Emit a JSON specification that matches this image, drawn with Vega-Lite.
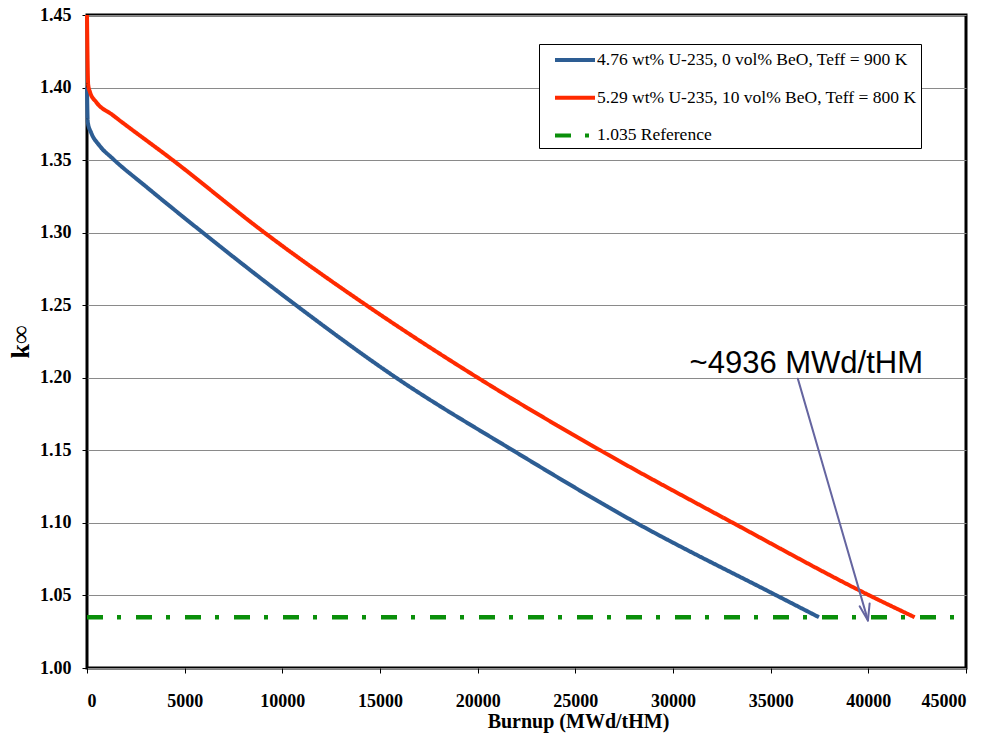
{
  "$schema": "https://vega.github.io/schema/vega-lite/v6.json",
  "autosize": "none",
  "width": 879,
  "height": 653,
  "padding": {"left": 87, "top": 15, "right": 24, "bottom": 77},
  "background": "white",
  "datasets": {
    "curves": [
      {"series": "4.76 wt% U-235, 0 vol% BeO, Teff = 900 K", "burnup": 0, "k": 1.400},
      {"series": "4.76 wt% U-235, 0 vol% BeO, Teff = 900 K", "burnup": 40, "k": 1.376},
      {"series": "4.76 wt% U-235, 0 vol% BeO, Teff = 900 K", "burnup": 210, "k": 1.369},
      {"series": "4.76 wt% U-235, 0 vol% BeO, Teff = 900 K", "burnup": 640, "k": 1.360},
      {"series": "4.76 wt% U-235, 0 vol% BeO, Teff = 900 K", "burnup": 1320, "k": 1.351},
      {"series": "4.76 wt% U-235, 0 vol% BeO, Teff = 900 K", "burnup": 3000, "k": 1.332},
      {"series": "4.76 wt% U-235, 0 vol% BeO, Teff = 900 K", "burnup": 5930, "k": 1.300},
      {"series": "4.76 wt% U-235, 0 vol% BeO, Teff = 900 K", "burnup": 10700, "k": 1.250},
      {"series": "4.76 wt% U-235, 0 vol% BeO, Teff = 900 K", "burnup": 15830, "k": 1.200},
      {"series": "4.76 wt% U-235, 0 vol% BeO, Teff = 900 K", "burnup": 21800, "k": 1.150},
      {"series": "4.76 wt% U-235, 0 vol% BeO, Teff = 900 K", "burnup": 28120, "k": 1.100},
      {"series": "4.76 wt% U-235, 0 vol% BeO, Teff = 900 K", "burnup": 35300, "k": 1.050},
      {"series": "4.76 wt% U-235, 0 vol% BeO, Teff = 900 K", "burnup": 37470, "k": 1.035},
      {"series": "5.29 wt% U-235, 10 vol% BeO, Teff = 800 K", "burnup": 0, "k": 1.450},
      {"series": "5.29 wt% U-235, 10 vol% BeO, Teff = 800 K", "burnup": 60, "k": 1.402},
      {"series": "5.29 wt% U-235, 10 vol% BeO, Teff = 800 K", "burnup": 150, "k": 1.397},
      {"series": "5.29 wt% U-235, 10 vol% BeO, Teff = 800 K", "burnup": 470, "k": 1.390},
      {"series": "5.29 wt% U-235, 10 vol% BeO, Teff = 800 K", "burnup": 1320, "k": 1.381},
      {"series": "5.29 wt% U-235, 10 vol% BeO, Teff = 800 K", "burnup": 4390, "k": 1.350},
      {"series": "5.29 wt% U-235, 10 vol% BeO, Teff = 800 K", "burnup": 9090, "k": 1.300},
      {"series": "5.29 wt% U-235, 10 vol% BeO, Teff = 800 K", "burnup": 14300, "k": 1.250},
      {"series": "5.29 wt% U-235, 10 vol% BeO, Teff = 800 K", "burnup": 20010, "k": 1.200},
      {"series": "5.29 wt% U-235, 10 vol% BeO, Teff = 800 K", "burnup": 26280, "k": 1.150},
      {"series": "5.29 wt% U-235, 10 vol% BeO, Teff = 800 K", "burnup": 33070, "k": 1.100},
      {"series": "5.29 wt% U-235, 10 vol% BeO, Teff = 800 K", "burnup": 40060, "k": 1.050},
      {"series": "5.29 wt% U-235, 10 vol% BeO, Teff = 800 K", "burnup": 42370, "k": 1.035}
    ],
    "reference": [
      {"series": "1.035 Reference", "burnup": 0, "k": 1.035},
      {"series": "1.035 Reference", "burnup": 44700, "k": 1.035}
    ],
    "arrow": [
      {"x": 36390, "y": 1.1994, "x2": 39980, "y2": 1.0328},
      {"x": 39555, "y": 1.0425, "x2": 39980, "y2": 1.0328},
      {"x": 40067, "y": 1.0445, "x2": 39980, "y2": 1.0328}
    ],
    "note": [
      {"burnup": 30850, "k": 1.2031, "label": "~4936 MWd/tHM"}
    ]
  },
  "layer": [
    {
      "data": {"name": "reference"},
      "mark": {"type": "line", "strokeWidth": 4.5, "strokeCap": "butt"},
      "encoding": {
        "x": {"field": "burnup", "type": "quantitative"},
        "y": {"field": "k", "type": "quantitative"},
        "color": {"field": "series", "type": "nominal"},
        "strokeDash": {"field": "series", "type": "nominal"}
      }
    },
    {
      "data": {"name": "curves"},
      "mark": {"type": "line", "strokeWidth": 4, "strokeCap": "butt", "interpolate": "monotone"},
      "encoding": {
        "x": {
          "field": "burnup", "type": "quantitative",
          "scale": {"domain": [0, 45000], "nice": false, "zero": false},
          "axis": {
            "values": [0, 5000, 10000, 15000, 20000, 25000, 30000, 35000, 40000, 45000],
            "format": "d",
            "grid": false,
            "domain": false,
            "labelFont": "Liberation Serif",
            "labelFontWeight": "bold",
            "labelFontSize": 18,
            "labelColor": "black",
            "tickColor": "black",
            "tickSize": 5,
            "labelPadding": 19,
            "title": "Burnup (MWd/tHM)",
            "titleFont": "Liberation Serif",
            "titleFontWeight": "bold",
            "titleFontSize": 20,
            "titleColor": "black",
            "titleX": 491,
            "titleY": 59,
            "titleAlign": "center",
            "titleBaseline": "alphabetic"
          }
        },
        "y": {
          "field": "k", "type": "quantitative",
          "scale": {"domain": [1.0, 1.45], "nice": false, "zero": false},
          "axis": {
            "values": [1.0, 1.05, 1.1, 1.15, 1.2, 1.25, 1.3, 1.35, 1.4, 1.45],
            "format": ".2f",
            "grid": true,
            "gridColor": "#8a8a8a",
            "gridWidth": 1.2,
            "domain": false,
            "labelFont": "Liberation Serif",
            "labelFontWeight": "bold",
            "labelFontSize": 18,
            "labelColor": "black",
            "tickColor": "black",
            "tickSize": 5,
            "labelPadding": 11,
            "title": "k∞",
            "titleFont": "Liberation Serif",
            "titleFontWeight": "bold",
            "titleFontSize": 26,
            "titleColor": "black",
            "titlePadding": 6
          }
        },
        "color": {
          "field": "series", "type": "nominal",
          "scale": {
            "domain": ["4.76 wt% U-235, 0 vol% BeO, Teff = 900 K", "5.29 wt% U-235, 10 vol% BeO, Teff = 800 K", "1.035 Reference"],
            "range": ["#2d5d93", "#ff2a00", "#0a8f0a"]
          },
          "legend": {
            "title": null,
            "orient": "none",
            "legendX": 452,
            "legendY": 29,
            "fillColor": "white",
            "strokeColor": "black",
            "padding": 4,
            "symbolType": "M0,0H4",
            "symbolSize": 400,
            "symbolStrokeWidth": 4,
            "labelFont": "Liberation Serif",
            "labelFontSize": 17.5,
            "labelColor": "black",
            "labelLimit": 600,
            "labelOffset": 30,
            "labelExpr": "datum.label + '\u2003\u2003\u2002'",
            "rowPadding": 16.7
          }
        },
        "strokeDash": {
          "field": "series", "type": "nominal",
          "scale": {
            "domain": ["4.76 wt% U-235, 0 vol% BeO, Teff = 900 K", "5.29 wt% U-235, 10 vol% BeO, Teff = 800 K", "1.035 Reference"],
            "range": [[1, 0], [1, 0], [16, 14, 4, 15]]
          },
          "legend": {
            "title": null,
            "orient": "none",
            "legendX": 452,
            "legendY": 29,
            "labelExpr": "datum.label + '\u2003\u2003\u2002'"
          }
        }
      }
    },
    {
      "data": {"name": "arrow"},
      "mark": {"type": "rule", "color": "#6565a0", "strokeWidth": 2, "strokeCap": "round"},
      "encoding": {
        "x": {"field": "x", "type": "quantitative"},
        "y": {"field": "y", "type": "quantitative"},
        "x2": {"field": "x2"},
        "y2": {"field": "y2"}
      }
    },
    {
      "data": {"name": "note"},
      "mark": {"type": "text", "align": "left", "baseline": "alphabetic", "font": "Liberation Sans", "fontSize": 31, "color": "black"},
      "encoding": {
        "x": {"field": "burnup", "type": "quantitative"},
        "y": {"field": "k", "type": "quantitative"},
        "text": {"field": "label"}
      }
    }
  ],
  "config": {
    "view": {"stroke": "black", "strokeWidth": 3},
    "font": "Liberation Serif"
  }
}
